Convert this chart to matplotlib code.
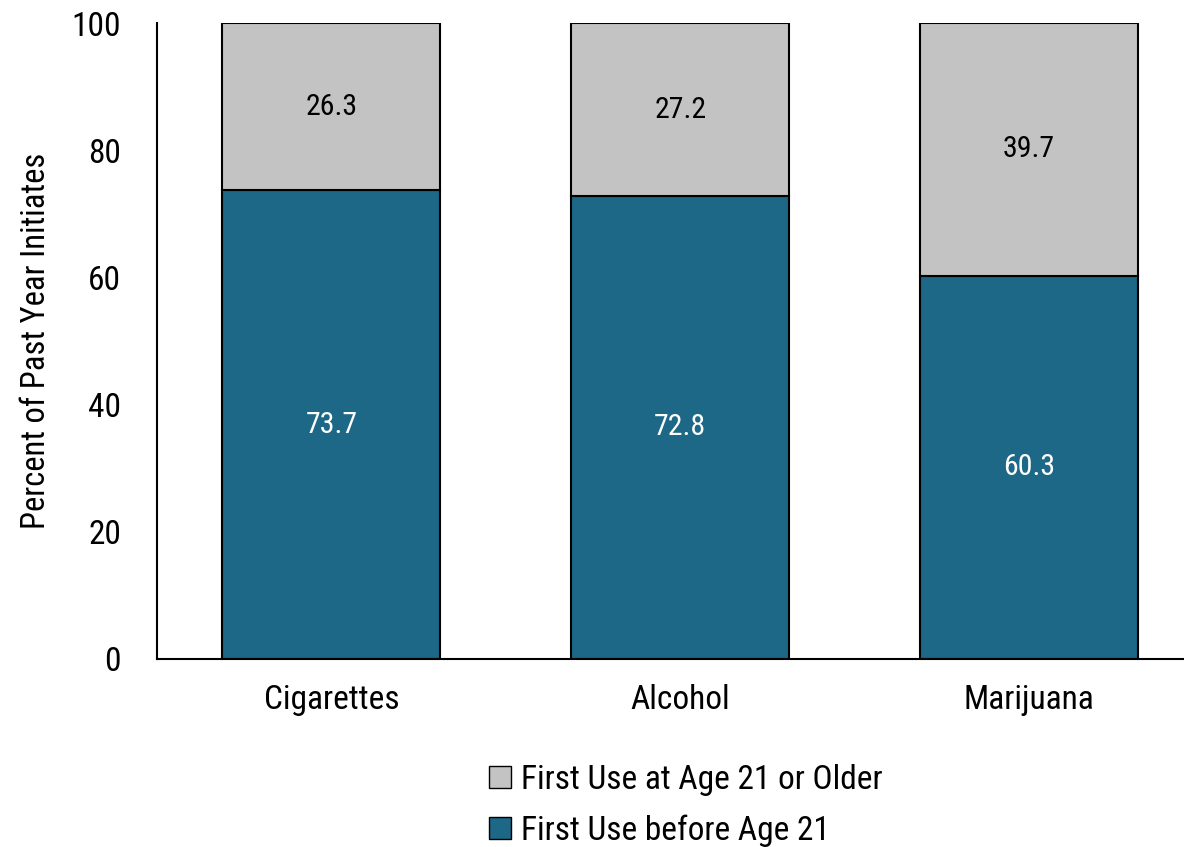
import matplotlib as mpl
mpl.use('Agg')
import matplotlib.pyplot as plt
from matplotlib.patches import Patch
from matplotlib import font_manager
import numpy as np

# data
categories = ['Cigarettes', 'Alcohol', 'Marijuana']
before21 = [73.7, 72.8, 60.3]
after21 = [26.3, 27.2, 39.7]
before_label = 'First Use before Age 21'
after_label = 'First Use at Age 21 or Older'

# pick a condensed sans if there is one
names = set(f.name for f in font_manager.fontManager.ttflist)
fam = 'Roboto'
for cand in ['Roboto Condensed', 'Archivo Narrow', 'PT Sans Narrow',
             'Liberation Sans Narrow', 'Sofia Sans Condensed']:
    if cand in names:
        fam = cand
        break
plt.rcParams['font.family'] = [fam, 'DejaVu Sans']

teal = '#1c6886'
grey = '#c3c3c3'

fig = plt.figure(figsize=(11.84, 8.47), dpi=100)
ax = fig.add_axes([0.1326, 0.222, 0.8674, 0.7508])

x = np.arange(len(categories))
w = 0.625
ax.bar(x, before21, w, color=teal, edgecolor='black', linewidth=1.5)
ax.bar(x, after21, w, bottom=before21, color=grey, edgecolor='black', linewidth=1.5)

for i in range(len(categories)):
    ax.text(x[i], before21[i] / 2, f'{before21[i]:.1f}', ha='center', va='center',
            color='white', fontsize=21.5)
    ax.text(x[i], before21[i] + after21[i] / 2, f'{after21[i]:.1f}', ha='center',
            va='center', color='black', fontsize=21.5)

ax.set_xlim(-0.5, 2.444)
ax.set_ylim(0, 100)
ax.set_yticks([0, 20, 40, 60, 80, 100])
ax.set_xticks(x)
ax.set_xticklabels(categories)
ax.tick_params(axis='both', length=0, labelsize=24)
ax.tick_params(axis='y', pad=26)
ax.tick_params(axis='x', pad=18)
ax.spines['top'].set_visible(False)
ax.spines['right'].set_visible(False)
ax.spines['left'].set_linewidth(1.5)
ax.spines['bottom'].set_linewidth(1.5)
ax.set_ylabel('Percent of Past Year Initiates', fontsize=23.5, labelpad=14)

handles = [Patch(facecolor=grey, edgecolor='black', label=after_label),
           Patch(facecolor=teal, edgecolor='black', label=before_label)]
fig.legend(handles=handles, loc='upper left', bbox_to_anchor=(0.402, 0.114),
           frameon=False, fontsize=24, handlelength=0.65, handleheight=0.65,
           handletextpad=0.3, labelspacing=0.55, borderaxespad=0)

fig.savefig('out.png', dpi=100)
